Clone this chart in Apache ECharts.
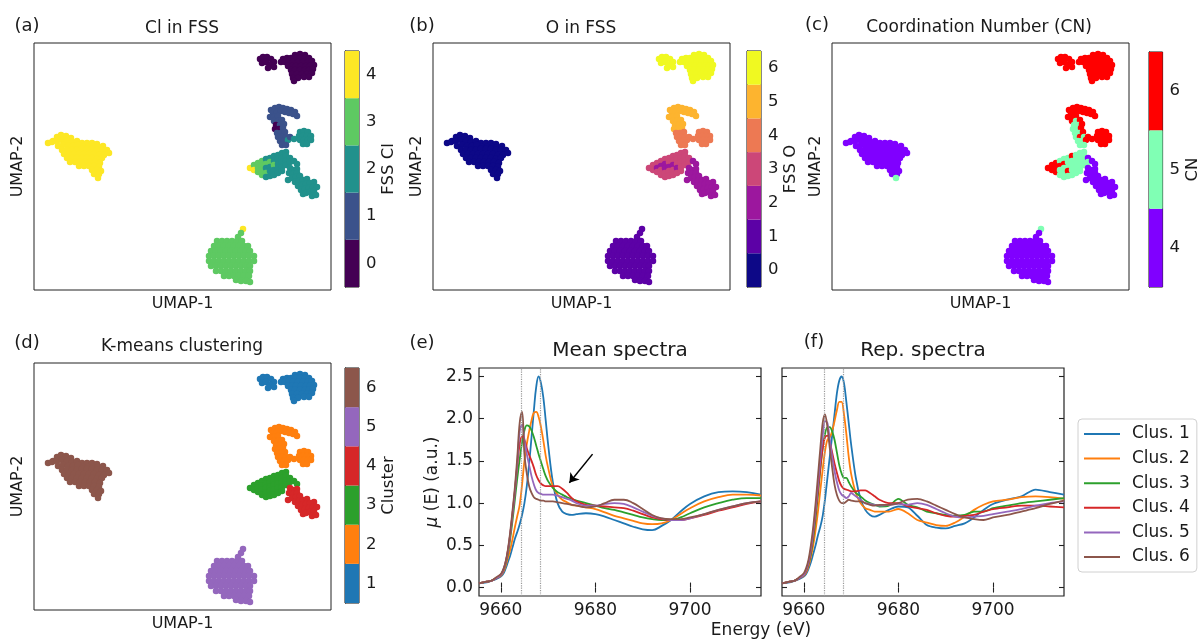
<!DOCTYPE html>
<html><head><meta charset="utf-8">
<script src="https://cdn.jsdelivr.net/npm/echarts@6/dist/echarts.min.js"></script>
<style>html,body{margin:0;padding:0;background:#fff}#chart{width:1202px;height:642px}</style>
</head><body><div id="chart"></div>
<script>
// ---------------- DATA ----------------
// UMAP embedding points per K-means cluster: [UMAP-1, UMAP-2] or [UMAP-1, UMAP-2, FSS Cl, FSS O, CN]
const cluster1Attrs = [0, 6, 6];
const cluster1Points = [
 [26.0,24.1],[26.3,24.3],[26.7,24.3],[27.1,24.1],[27.4,23.8],[26.2,23.7],[26.6,23.8],[27.0,23.5],[27.4,23.3],[26.8,23.2],
 [29.5,24.5],[30.0,24.6],[30.5,24.5],
 [28.3,24.1],[28.7,24.2],[29.1,24.2],[29.6,24.2],[30.0,24.2],[30.5,24.2],[30.9,24.2],
 [28.1,23.8],[28.5,23.8],[28.9,23.9],[29.3,23.8],[29.8,23.8],[30.3,23.8],[30.8,23.8],[31.2,23.9],
 [28.8,23.4],[29.2,23.4],[29.6,23.4],[30.1,23.4],[30.6,23.4],[31.0,23.4],[31.4,23.5],
 [29.1,23.0],[29.5,23.0],[30.0,23.0],[30.5,23.0],[30.9,23.0],[31.3,23.1],
 [29.2,22.6],[29.7,22.6],[30.2,22.6],[30.7,22.6],[31.2,22.7],
 [29.3,22.2],[29.8,22.2],[30.4,22.3],[30.9,22.3],[29.4,21.9]
];
const cluster2Points = [
 [27.1,19.0,1,5,6],[27.5,19.2,1,5,6],[27.9,19.3,1,5,6],[28.3,19.2,1,5,6],[28.7,19.1,1,5,6],[29.1,19.0,1,5,6],
 [29.5,18.8,1,5,6],[29.7,18.4,1,5,6],[27.3,18.7,1,5,6],[27.7,18.8,1,5,6],[28.1,18.9,1,5,6],[28.5,18.8,1,5,6],
 [28.9,18.7,1,5,6],[29.3,18.6,1,5,6],[27.0,18.3,1,5,6],[27.4,18.3,1,5,6],[27.8,18.4,1,5,6],
 [27.4,17.9,1,5,6],[27.8,17.9,1,5,5],[28.2,18.0,1,5,6],[27.6,17.5,0,5,5],[28.0,17.5,1,5,5],[28.4,17.6,1,5,6],
 [27.5,17.1,0,5,5],[27.9,17.1,0,5,5],[28.3,17.2,1,5,6],[27.7,16.7,1,4,5],[28.1,16.7,1,4,5],[28.5,16.8,1,4,6],
 [27.8,16.3,1,4,5],[28.2,16.3,1,4,6],[28.6,16.3,1,4,5],[28.0,15.9,1,4,5],[28.4,15.9,1,4,5],[28.8,16.0,2,4,6],
 [28.2,15.5,1,4,5],[28.6,15.5,1,4,5],[29.0,16.3,1,4,6],[29.4,16.1,2,4,6],
 [30.0,16.8,2,4,6],[30.4,16.9,2,4,6],[30.8,16.8,2,4,6],[29.9,16.4,2,4,6],[30.3,16.4,2,4,6],[30.7,16.4,2,4,6],
 [31.1,16.4,2,4,6],[30.0,16.0,2,4,6],[30.4,16.0,2,4,6],[30.8,16.0,2,4,6],[31.1,16.0,2,4,6],[30.3,15.6,2,4,6],[30.7,15.6,2,4,6]
];
const cluster3Points = [
 [25.0,13.2,4,3,6],[25.4,13.5,3,3,6],[25.4,13.0,4,3,6],[25.8,13.7,3,3,6],[25.8,13.2,3,2,6],[25.8,12.8,3,3,6],
 [26.2,13.9,3,3,5],[26.2,13.4,3,2,6],[26.2,13.0,3,3,5],[26.2,12.5,3,3,5],
 [26.6,14.1,2,3,5],[26.6,13.6,3,2,6],[26.6,13.2,2,2,5],[26.6,12.7,3,3,5],[26.6,12.3,2,3,5],
 [27.0,14.2,2,3,5],[27.0,13.8,3,3,5],[27.0,13.3,2,2,5],[27.0,12.9,2,3,6],[27.0,12.4,2,3,5],
 [27.4,14.4,2,3,6],[27.4,13.9,2,3,5],[27.4,13.5,3,2,5],[27.4,13.0,2,3,5],[27.4,12.5,2,3,5],
 [27.8,14.5,2,3,5],[27.8,14.1,2,3,5],[27.8,13.6,2,3,5],[27.8,13.2,2,2,5],[27.8,12.7,2,3,5],
 [28.2,14.7,2,3,5],[28.2,14.2,2,3,5],[28.2,13.8,2,3,5],[28.2,13.3,2,3,5],[28.2,12.9,2,3,5],
 [28.6,14.8,2,3,5],[28.6,14.4,2,3,5],[28.6,13.9,2,3,5],[28.6,13.5,2,3,5],
 [29.0,14.2,2,3,4],[29.0,13.8,2,3,5],[29.4,13.9,2,2,4],[29.7,13.6,2,2,4]
];
const cluster4Attrs = [2, 2, 4];
const cluster4Points = [
 [29.0,13.2],[29.3,13.0],[29.7,13.1],[28.9,12.7],[29.3,12.6],[29.7,12.7],[28.8,12.0],[29.2,12.2],[29.6,12.3],[30.0,12.4],
 [29.5,11.8],[29.9,11.9],[30.3,12.0],[30.7,12.1],[31.4,11.8],[29.8,11.4],[30.2,11.5],[30.6,11.6],[31.0,11.7],
 [30.1,11.0],[30.5,11.1],[30.9,11.2],[31.3,11.3],[31.7,11.3],[30.3,10.6],[30.6,10.7],[31.0,10.8],[31.4,10.9],
 [31.2,10.4],[31.6,10.5]
];
const cluster5Attrs = [3, 1, 4];
const cluster5Points = [
 [24.3,7.1,4,1,5],[24.1,6.7],[23.8,6.3],
 [21.7,5.9],[22.2,5.9],[22.7,5.9],[23.2,5.9],[23.7,5.9],[24.2,5.9],
 [21.4,5.4],[21.9,5.4],[22.4,5.4],[22.9,5.4],[23.4,5.4],[23.9,5.4],[24.4,5.4],[24.8,5.4],
 [21.1,4.9],[21.6,4.9],[22.1,4.9],[22.6,4.9],[23.1,4.9],[23.6,4.9],[24.1,4.9],[24.6,4.9],[25.0,4.9],
 [20.9,4.4],[21.4,4.4],[21.9,4.4],[22.4,4.4],[22.9,4.4],[23.4,4.4],[23.9,4.4],[24.4,4.4],[24.9,4.4],[25.4,4.4],
 [20.9,3.9],[21.4,3.9],[21.9,3.9],[22.4,3.9],[22.9,3.9],[23.4,3.9],[23.9,3.9],[24.4,3.9],[24.9,3.9],[25.4,3.9],
 [21.1,3.4],[21.6,3.4],[22.1,3.4],[22.6,3.4],[23.1,3.4],[23.6,3.4],[24.1,3.4],[24.6,3.4],[25.0,3.4],
 [21.6,2.9],[22.1,2.9],[22.6,2.9],[23.1,2.9],[23.6,2.9],[24.1,2.9],[24.6,2.9],[25.0,2.9],
 [22.4,2.4],[22.9,2.4],[23.4,2.4],[23.9,2.4],[24.4,2.4],[24.9,2.4],
 [23.6,2.0],[24.1,1.9],[24.6,1.9],[25.0,1.8]
];
const cluster6Attrs = [4, 0, 4];
const cluster6Points = [
 [4.8,15.7],[5.3,15.9],[5.7,16.3],[6.1,16.5],[6.6,16.4],[7.1,16.2],
 [5.2,15.8],[5.7,15.9],[6.2,16.0],[6.7,15.9],[7.2,15.8],[7.7,15.9],[8.2,15.7],[8.7,15.7],[9.2,15.7],[9.7,15.6],
 [5.8,15.4],[6.3,15.5],[6.8,15.4],[7.3,15.4],[7.8,15.5],[8.3,15.3],[8.8,15.3],[9.3,15.3],[9.8,15.3],[10.3,15.4],
 [6.2,15.0],[6.7,15.0],[7.2,15.0],[7.7,15.0],[8.2,15.1],[8.7,15.1],[9.2,15.1],[9.7,15.0],[10.2,15.0],[10.7,15.0],
 [6.4,14.6],[6.9,14.6],[7.4,14.6],[7.9,14.6],[8.4,14.6],[8.9,14.6],[9.4,14.6],[9.9,14.5],[10.4,14.5],[10.9,14.7],
 [6.7,14.2],[7.2,14.2],[7.7,14.2],[8.2,14.2],[8.7,14.2],[9.2,14.2],[9.7,14.1],[10.2,14.2],
 [7.0,13.8],[7.5,13.8],[8.0,13.8],[8.5,13.8],[9.0,13.8],[9.5,13.8],[10.0,13.7],
 [7.9,13.4],[8.4,13.4],[8.9,13.4],[9.4,13.4],[9.9,13.3],
 [9.2,13.0],[9.7,13.0],[10.1,12.9],[9.4,12.6],[9.9,12.6],[9.8,12.2,4,0,5]
];

// Colour-bar levels
const clTicks = [0, 1, 2, 3, 4];
const oTicks = [0, 1, 2, 3, 4, 5, 6];
const cnTicks = [4, 5, 6];
const clusterTicks = [1, 2, 3, 4, 5, 6];
const clColors = ['#440154', '#3b528b', '#21918c', '#5ec962', '#fde725'];
const oColors = ['#0d0887', '#5c01a6', '#9c179e', '#cc4778', '#ed7953', '#fdb42f', '#f0f921'];
const cnColors = ['#8000ff', '#80ffb4', '#ff0000'];
const clusterColors = ['#1f77b4', '#ff7f0e', '#2ca02c', '#d62728', '#9467bd', '#8c564b'];
const clusterNames = ['Clus. 1', 'Clus. 2', 'Clus. 3', 'Clus. 4', 'Clus. 5', 'Clus. 6'];

// XANES spectra (energy grid in eV, mu(E) in a.u.)
const energy = [9655.4,9657,9658,9659,9660,9660.5,9661,9661.5,9662,9662.5,9663,9663.5,9664,9664.5,9665,9665.5,9666,9666.5,9667,9667.5,9668,9668.5,9669,9669.5,9670,9671,9672,9673,9674,9675,9676,9678,9680,9682,9684,9686,9688,9690,9692,9694,9696,9698,9700,9703,9706,9709,9712,9715];
const meanClus1 = [0.05,0.06,0.08,0.10,0.13,0.16,0.22,0.30,0.38,0.48,0.58,0.66,0.75,0.86,1.00,1.20,1.47,1.78,2.10,2.38,2.50,2.42,2.25,1.98,1.70,1.25,1.00,0.90,0.87,0.86,0.87,0.88,0.87,0.84,0.80,0.76,0.72,0.69,0.68,0.73,0.80,0.90,0.99,1.08,1.13,1.14,1.13,1.10];
const meanClus2 = [0.05,0.07,0.08,0.11,0.14,0.18,0.25,0.35,0.45,0.58,0.72,0.85,0.98,1.22,1.50,1.70,1.85,1.98,2.07,2.08,2.02,1.90,1.74,1.56,1.42,1.20,1.10,1.04,1.01,0.98,0.97,0.95,0.93,0.89,0.85,0.82,0.79,0.76,0.75,0.76,0.80,0.87,0.94,1.02,1.07,1.10,1.10,1.09];
const meanClus3 = [0.05,0.07,0.08,0.11,0.15,0.20,0.28,0.40,0.58,0.80,1.05,1.30,1.52,1.72,1.86,1.92,1.91,1.86,1.78,1.68,1.58,1.49,1.40,1.32,1.26,1.18,1.13,1.10,1.07,1.05,1.03,1.00,0.97,0.94,0.92,0.89,0.86,0.83,0.81,0.80,0.80,0.83,0.88,0.95,1.00,1.04,1.06,1.06];
const meanClus4 = [0.05,0.07,0.08,0.11,0.15,0.20,0.29,0.43,0.63,0.88,1.15,1.45,1.70,1.79,1.75,1.65,1.57,1.50,1.42,1.33,1.27,1.23,1.21,1.20,1.20,1.20,1.20,1.17,1.12,1.06,1.02,0.98,0.97,0.96,0.95,0.94,0.91,0.87,0.83,0.81,0.80,0.80,0.82,0.86,0.91,0.95,0.99,1.02];
const meanClus5 = [0.05,0.07,0.08,0.11,0.15,0.20,0.29,0.43,0.63,0.88,1.15,1.48,1.85,1.93,1.75,1.58,1.45,1.32,1.22,1.15,1.12,1.11,1.10,1.10,1.10,1.10,1.09,1.07,1.05,1.03,1.00,0.97,0.97,0.99,1.00,0.99,0.95,0.90,0.85,0.82,0.80,0.80,0.82,0.87,0.92,0.96,1.00,1.02];
const meanClus6 = [0.05,0.07,0.08,0.12,0.16,0.21,0.30,0.45,0.66,0.92,1.20,1.55,1.95,2.08,1.58,1.35,1.20,1.12,1.07,1.05,1.04,1.03,1.03,1.02,1.02,1.02,1.01,1.00,0.99,0.98,0.97,0.95,0.96,1.00,1.04,1.04,1.00,0.93,0.86,0.82,0.81,0.81,0.83,0.87,0.92,0.96,1.00,1.02];
const repClus1 = [0.05,0.06,0.08,0.10,0.13,0.16,0.22,0.30,0.40,0.50,0.62,0.72,0.85,1.05,1.30,1.55,1.80,2.05,2.30,2.45,2.50,2.42,2.20,1.95,1.70,1.30,1.05,0.92,0.86,0.84,0.86,0.92,0.96,0.95,0.85,0.74,0.71,0.70,0.73,0.76,0.83,0.92,0.99,1.04,1.08,1.16,1.13,1.10];
const repClus2 = [0.05,0.07,0.08,0.11,0.14,0.18,0.25,0.36,0.50,0.68,0.90,1.15,1.40,1.62,1.75,1.78,1.85,1.97,2.10,2.20,2.20,2.05,1.82,1.55,1.35,1.12,1.00,0.94,0.92,0.90,0.90,0.90,0.93,0.88,0.80,0.77,0.74,0.73,0.77,0.84,0.92,0.98,1.02,1.04,1.07,1.08,1.07,1.05];
const repClus3 = [0.05,0.07,0.08,0.11,0.15,0.20,0.28,0.40,0.58,0.82,1.10,1.40,1.65,1.82,1.90,1.90,1.85,1.75,1.60,1.45,1.35,1.30,1.30,1.25,1.20,1.12,1.08,1.03,1.00,0.98,0.96,0.97,1.05,0.98,0.95,0.90,0.88,0.86,0.85,0.86,0.90,0.90,0.94,0.97,1.00,1.02,1.04,1.06];
const repClus4 = [0.05,0.07,0.08,0.11,0.15,0.20,0.29,0.43,0.63,0.88,1.15,1.42,1.65,1.78,1.80,1.72,1.60,1.47,1.36,1.26,1.20,1.17,1.16,1.15,1.14,1.14,1.15,1.15,1.12,1.08,1.04,1.00,1.00,0.96,0.94,0.92,0.88,0.85,0.84,0.85,0.86,0.90,0.93,0.95,0.97,0.97,0.96,0.95];
const repClus5 = [0.05,0.07,0.08,0.11,0.15,0.21,0.30,0.45,0.66,0.93,1.22,1.52,1.80,1.97,1.95,1.75,1.55,1.38,1.25,1.15,1.10,1.08,1.06,1.08,1.12,1.08,1.04,1.00,0.99,0.98,0.97,0.98,0.99,0.98,1.00,0.98,0.93,0.88,0.84,0.83,0.84,0.85,0.87,0.90,0.93,0.97,1.00,1.02];
const repClus6 = [0.05,0.07,0.08,0.12,0.17,0.23,0.33,0.50,0.72,1.00,1.32,1.65,1.95,2.05,1.90,1.65,1.42,1.22,1.10,1.03,1.00,1.00,1.02,1.04,1.03,1.02,1.02,1.00,0.98,0.97,0.98,0.98,1.00,1.04,1.05,1.02,0.97,0.92,0.87,0.83,0.81,0.80,0.83,0.86,0.90,0.94,0.99,1.03];
const energyTicks = [9660, 9680, 9700];
const muTicks = [0, 0.5, 1.0, 1.5, 2.0, 2.5];
const edgeMarkers = [9664.3, 9668.4];
const arrowFrom = [9679.4, 1.58];
const arrowTo = [9674.5, 1.24];

// ---------------- BUILD ----------------
const FONT = 'DejaVu Sans';
const TXT = '#1a1a1a';
const clusterSets = [
  [cluster1Points, cluster1Attrs], [cluster2Points, null], [cluster3Points, null],
  [cluster4Points, cluster4Attrs], [cluster5Points, cluster5Attrs], [cluster6Points, cluster6Attrs]
];
const pts = [];
clusterSets.forEach(([rows, def], ci) => rows.forEach(r => {
  const f = r.length > 2 ? r : r.concat(def);
  pts.push({x: f[0], y: f[1], cl: f[2], o: f[3], cn: f[4], k: ci + 1});
}));

const panels = [
  {key: 'cl', colors: clColors, ticks: clTicks, name: 'FSS Cl', grid: {left: 34, top: 43}, cb: {left: 345, top: 51, height: 236}},
  {key: 'o', colors: oColors, ticks: oTicks, name: 'FSS O', grid: {left: 433, top: 43}, cb: {left: 747, top: 51, height: 236}},
  {key: 'cn', colors: cnColors, ticks: cnTicks, name: 'CN', grid: {left: 832, top: 43}, cb: {left: 1149, top: 52, height: 235}},
  {key: 'k', colors: clusterColors, ticks: clusterTicks, name: 'Cluster', grid: {left: 34, top: 363}, cb: {left: 345, top: 368, height: 235}}
];

const grids = [], xAxes = [], yAxes = [], series = [];
panels.forEach((p, i) => {
  grids.push({left: p.grid.left, top: p.grid.top, width: 297, height: 247, show: true, borderColor: '#222', borderWidth: 1, backgroundColor: '#fff'});
  xAxes.push({gridIndex: i, type: 'value', min: 3.4, max: 33.1, axisLine: {show: false}, axisTick: {show: false}, axisLabel: {show: false}, splitLine: {show: false},
    name: 'UMAP-1', nameLocation: 'middle', nameGap: 6, nameTextStyle: {fontFamily: FONT, fontSize: 16, color: TXT}});
  yAxes.push({gridIndex: i, type: 'value', min: 1.0, max: 25.7, axisLine: {show: false}, axisTick: {show: false}, axisLabel: {show: false}, splitLine: {show: false},
    name: 'UMAP-2', nameLocation: 'middle', nameRotate: 90, nameGap: 8, nameTextStyle: {fontFamily: FONT, fontSize: 16, color: TXT}});
  series.push({type: 'scatter', xAxisIndex: i, yAxisIndex: i, symbolSize: 6.5, silent: true, animation: false, large: false,
    data: pts.map(q => [q.x, q.y, q[p.key]]),
    itemStyle: {color: prm => p.colors[p.ticks.indexOf(prm.value[2])], opacity: 1, borderWidth: 0}});
});
panels.forEach((p, i) => {
  const gi = 4 + i;
  grids.push({left: p.cb.left, top: p.cb.top, width: 14, height: p.cb.height, show: true, borderColor: '#111', borderWidth: 1});
  xAxes.push({gridIndex: gi, type: 'value', min: 0, max: 1, show: false});
  yAxes.push({gridIndex: gi, type: 'value', position: 'right', min: p.ticks[0] - 0.5, max: p.ticks[p.ticks.length - 1] + 0.5,
    axisLine: {show: true, lineStyle: {color: '#111'}}, splitLine: {show: false},
    axisTick: {show: true, inside: false, length: 4, customValues: p.ticks, lineStyle: {color: '#111'}},
    axisLabel: {customValues: p.ticks, fontFamily: FONT, fontSize: 16.5, color: TXT, margin: 7},
    name: p.name, nameLocation: 'middle', nameRotate: 90, nameGap: 21, nameTextStyle: {fontFamily: FONT, fontSize: 16.5, color: TXT}});
  series.push({type: 'custom', xAxisIndex: gi, yAxisIndex: gi, silent: true, clip: false,
    data: p.ticks.map(t => [t - 0.5, t + 0.5]),
    renderItem: (params, api) => {
      const a = api.coord([0, api.value(0)]), b = api.coord([1, api.value(1)]);
      return {type: 'rect', shape: {x: a[0], y: b[1], width: b[0] - a[0], height: a[1] - b[1]}, style: {fill: p.colors[params.dataIndex]}};
    }});
});

// spectra panels
const specPanels = [
  {left: 479, curves: [meanClus1, meanClus2, meanClus3, meanClus4, meanClus5, meanClus6], labels: true, arrow: true},
  {left: 782, curves: [repClus1, repClus2, repClus3, repClus4, repClus5, repClus6], labels: false, arrow: false}
];
specPanels.forEach((sp, j) => {
  grids.push({left: sp.left, top: 368, width: 282, height: 228, show: true, borderColor: '#222', borderWidth: 1.2, backgroundColor: '#fff'});
});
const tickStyle = {inside: true, length: 5, lineStyle: {color: '#222', width: 1.1}};
specPanels.forEach((sp, j) => {
  xAxes.push({gridIndex: 8 + j, type: 'value', min: 9655.4, max: 9715, axisLine: {show: false}, splitLine: {show: false},
    axisTick: Object.assign({customValues: energyTicks}, tickStyle),
    axisLabel: {customValues: energyTicks, formatter: v => String(Math.round(v)), fontFamily: FONT, fontSize: 17, color: TXT, margin: 6}});
  yAxes.push({gridIndex: 8 + j, type: 'value', min: -0.1, max: 2.6, axisLine: {show: false}, splitLine: {show: false},
    axisTick: Object.assign({customValues: muTicks}, tickStyle),
    axisLabel: {show: sp.labels, customValues: muTicks, formatter: v => Number(v).toFixed(1), fontFamily: FONT, fontSize: 17, color: TXT, margin: 6},
    name: sp.labels ? '{i|μ} (E) (a.u.)' : '', nameLocation: 'middle', nameRotate: 90, nameGap: 38,
    nameTextStyle: {fontFamily: FONT, fontSize: 17, color: TXT, rich: {i: {fontFamily: FONT, fontSize: 17, fontStyle: 'italic', color: TXT}}}});
});
specPanels.forEach((sp, j) => {
  xAxes.push({gridIndex: 8 + j, type: 'value', position: 'top', min: 9655.4, max: 9715, axisLine: {show: false}, splitLine: {show: false},
    axisTick: Object.assign({customValues: energyTicks}, tickStyle), axisLabel: {show: false}});
  yAxes.push({gridIndex: 8 + j, type: 'value', position: 'right', min: -0.1, max: 2.6, axisLine: {show: false}, splitLine: {show: false},
    axisTick: Object.assign({customValues: muTicks}, tickStyle), axisLabel: {show: false}});
});
specPanels.forEach((sp, j) => {
  sp.curves.forEach((c, k) => {
    const s = {type: 'line', name: clusterNames[k], xAxisIndex: 8 + j, yAxisIndex: 8 + j, symbol: 'none', smooth: j === 0 ? 0.4 : 0.3,
      z: 3, silent: true, animation: false,
      data: energy.map((e, m) => [e, c[m]]),
      lineStyle: {color: clusterColors[k], width: 1.8}, itemStyle: {color: clusterColors[k]}};
    if (k === 0) {
      s.markLine = {silent: true, symbol: 'none', label: {show: false}, animation: false,
        lineStyle: {type: 'dotted', color: '#9a9a9a', width: 1.2}, data: edgeMarkers.map(e => ({xAxis: e}))};
    }
    if (k === 3 && sp.arrow) {
      s.markLine = {silent: true, symbol: ['none', 'arrow'], symbolSize: 9, label: {show: false}, animation: false,
        lineStyle: {type: 'solid', color: '#000', width: 1.5}, data: [[{coord: arrowFrom}, {coord: arrowTo}]]};
    }
    series.push(s);
  });
});

const text = (t, x, y, size, extra) => ({type: 'text', x: x, y: y, silent: true,
  style: Object.assign({text: t, font: size + 'px "' + FONT + '"', fill: TXT, textAlign: 'center', textVerticalAlign: 'middle'}, extra || {})});

const option = {
  animation: false,
  backgroundColor: '#fff',
  grid: grids, xAxis: xAxes, yAxis: yAxes, series: series,
  legend: {data: clusterNames, orient: 'vertical', left: 1078, top: 419, icon: 'rect', itemWidth: 36, itemHeight: 2, itemGap: 4.6,
    padding: [5, 7, 5, 6], borderColor: '#d0d0d0', borderWidth: 1, borderRadius: 4, backgroundColor: '#fff',
    textStyle: {fontFamily: FONT, fontSize: 17, color: TXT, lineHeight: 20, padding: [0, 0, 0, 7]}, selectedMode: false},
  graphic: [
    text('(a)', 27, 26, 18), text('(b)', 422, 26, 18), text('(c)', 817, 25, 18),
    text('(d)', 27, 343, 18), text('(e)', 422, 343, 18), text('(f)', 814, 342, 18),
    text('Cl in FSS', 182, 29, 17), text('O in FSS', 581, 29, 17), text('Coordination Number (CN)', 979, 28, 17),
    text('K-means clustering', 182, 347, 17), text('Mean spectra', 620, 351, 20), text('Rep. spectra', 923, 351, 20),
    text('Energy (eV)', 761, 631, 17)
  ]
};
const chart = echarts.init(document.getElementById('chart'), null, {renderer: 'canvas'});
chart.setOption(option);
</script></body></html>
